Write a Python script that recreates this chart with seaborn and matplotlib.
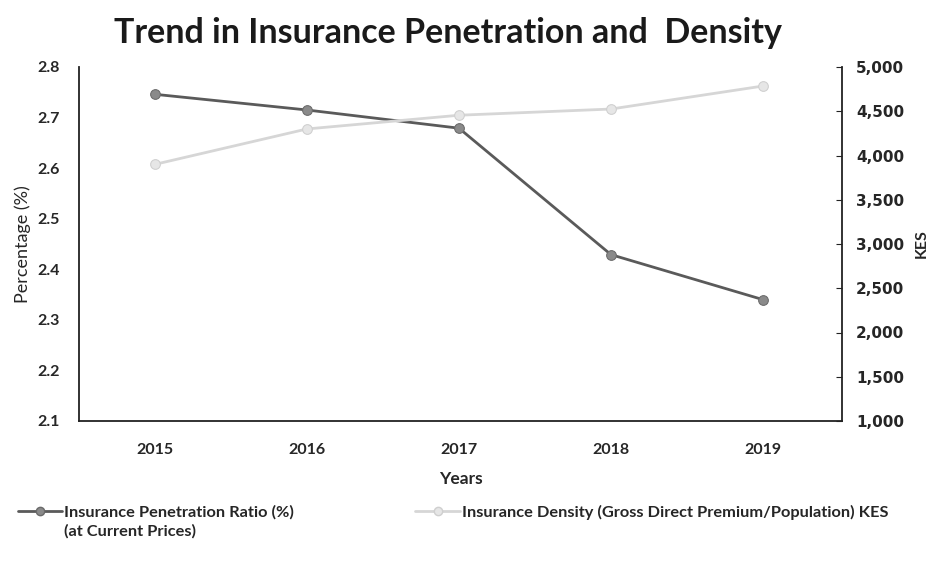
import matplotlib
matplotlib.use("Agg")
import matplotlib.pyplot as plt
import seaborn as sns
import pandas as pd
from matplotlib.lines import Line2D
from matplotlib.ticker import FuncFormatter

years = ["2015", "2016", "2017", "2018", "2019"]
penetration = [2.746, 2.715, 2.679, 2.429, 2.340]
density = [3900, 4300, 4455, 4525, 4785]

df = pd.DataFrame({"Year": years, "Penetration": penetration, "Density": density})

sns.set_style("white")
plt.rcParams["font.family"] = ["Lato", "DejaVu Sans"]

fig = plt.figure(figsize=(9.34, 5.72), dpi=100)
ax = fig.add_axes([79/934, 1-421/572, (842-79)/934, (421-67)/572])
ax2 = ax.twinx()

pen_col = "#5a5a5a"
den_col = "#d6d6d6"

sns.lineplot(data=df, x="Year", y="Penetration", ax=ax, color=pen_col, lw=2.0,
             marker="o", markersize=7, markerfacecolor="#8a8a8a", markeredgecolor="#6a6a6a",
             sort=False, zorder=3)
sns.lineplot(data=df, x="Year", y="Density", ax=ax2, color=den_col, lw=2.0,
             marker="o", markersize=7, markerfacecolor="#e6e6e6", markeredgecolor="#cfcfcf",
             sort=False, zorder=2)

ax.set_xlim(-0.5, 4.52)
ax.set_ylim(2.1, 2.8)
ax.set_yticks([2.1, 2.2, 2.3, 2.4, 2.5, 2.6, 2.7, 2.8])
ax.yaxis.set_major_formatter(FuncFormatter(lambda v, p: f"{v:.1f}"))
ax2.set_ylim(1000, 5000)
ax2.set_yticks(range(1000, 5001, 500))
ax2.yaxis.set_major_formatter(FuncFormatter(lambda v, p: f"{int(v):,}"))

for a in (ax, ax2):
    a.spines["top"].set_visible(False)
    for s in ("left", "right", "bottom"):
        a.spines[s].set_color("#222222")
        a.spines[s].set_linewidth(1.3)
ax2.spines["left"].set_visible(False)
ax2.spines["bottom"].set_visible(False)
ax.spines["right"].set_visible(False)

ax.tick_params(axis="y", length=0, pad=14, labelsize=11.5)
ax.tick_params(axis="x", length=0, pad=16, labelsize=11.5)
ax2.tick_params(axis="y", direction="in", length=4, pad=10, labelsize=11, color="#222222")
for lab in ax.get_yticklabels() + ax.get_xticklabels():
    lab.set_fontweight("bold")
for lab in ax2.get_yticklabels():
    lab.set_fontweight("bold")
    lab.set_family(["DejaVu Sans"])

ax.set_xlabel("Years", fontsize=12.5, fontweight="bold", labelpad=10)
ax.set_ylabel("Percentage (%)", fontsize=13, labelpad=4)
ax2.set_ylabel("KES", fontsize=11.5, fontweight="bold", labelpad=8)

fig.text(0.48, 0.942, "Trend in Insurance Penetration and  Density", ha="center", va="center",
         fontsize=24.5, fontweight="bold", color="#1a1a1a")

h1 = Line2D([], [], color=pen_col, lw=2, marker="o", markersize=6,
            markerfacecolor="#8a8a8a", markeredgecolor="#6a6a6a")
h2 = Line2D([], [], color=den_col, lw=2, marker="o", markersize=6,
            markerfacecolor="#e6e6e6", markeredgecolor="#cfcfcf")
leg = fig.legend([h1, h2],
                 ["Insurance Penetration Ratio (%)",
                  "Insurance Density (Gross Direct Premium/Population) KES"],
                 loc="upper left", bbox_to_anchor=(0.003, 0.143), ncol=2, frameon=False,
                 handlelength=2.7, handletextpad=0.15, columnspacing=7.4,
                 prop={"weight": "bold", "size": 11.8})

fig.canvas.draw()
t0 = leg.get_texts()[0]
bb = t0.get_window_extent(renderer=fig.canvas.get_renderer())
x0, y0 = fig.transFigure.inverted().transform((bb.x0, bb.y0))
fig.text(x0, y0 - 0.008, "(at Current Prices)", ha="left", va="top",
         fontsize=11.8, fontweight="bold", color="#262626")

fig.savefig("out.png", dpi=100)
